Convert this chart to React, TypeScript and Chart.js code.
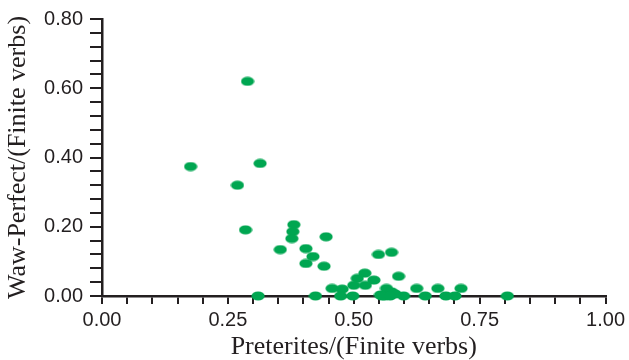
import React, { useEffect, useRef } from "react";
import { Chart, registerables } from "chart.js";

Chart.register(...registerables);

// Share of preterites vs. share of waw-perfect forms, one point per text
const preteriteShare = [
  0.289, 0.176, 0.314, 0.269, 0.285, 0.381, 0.379, 0.377, 0.445, 0.354,
  0.405, 0.419, 0.405, 0.441, 0.310, 0.424, 0.549, 0.575, 0.589, 0.522,
  0.507, 0.540, 0.523, 0.500, 0.457, 0.477, 0.474, 0.498, 0.553, 0.565,
  0.575, 0.562, 0.582, 0.599, 0.556, 0.572, 0.625, 0.642, 0.667, 0.683,
  0.701, 0.713, 0.805,
];
const wawPerfectShare = [
  0.620, 0.374, 0.383, 0.320, 0.191, 0.206, 0.186, 0.166, 0.171, 0.134,
  0.137, 0.114, 0.094, 0.086, 0.000, 0.000, 0.120, 0.126, 0.057, 0.066,
  0.051, 0.046, 0.031, 0.031, 0.022, 0.020, 0.000, 0.000, 0.003, 0.022,
  0.012, 0.000, 0.006, 0.000, 0.000, 0.000, 0.022, 0.000, 0.022, 0.000,
  0.000, 0.022, 0.000,
];

const xLabelEvery = 0.25;
const yLabelEvery = 0.2;

const INK = "#231f20";
const GREEN = "#00a651";

function ellipseMarker(): HTMLCanvasElement {
  const c = document.createElement("canvas");
  c.width = 14;
  c.height = 10;
  const g = c.getContext("2d")!;
  g.fillStyle = GREEN;
  g.beginPath();
  g.ellipse(7, 5, 6.6, 4.6, 0, 0, Math.PI * 2);
  g.fill();
  return c;
}

function onMultiple(v: number, step: number) {
  const r = v / step;
  return Math.abs(r - Math.round(r)) < 1e-6;
}

const tickFont = { family: "'Liberation Sans', Arial, sans-serif", size: 20 };
const titleFont = {
  family: "'Liberation Serif', 'Times New Roman', serif",
  size: 26,
  lineHeight: 1,
};

export default function App() {
  const ref = useRef<HTMLCanvasElement | null>(null);

  useEffect(() => {
    document.body.style.margin = "0";
    const canvas = ref.current!;
    const marker = ellipseMarker();
    const points = preteriteShare.map((x, i) => ({ x, y: wawPerfectShare[i] }));

    const chart = new Chart(canvas, {
      type: "scatter",
      data: {
        datasets: [
          {
            data: points,
            pointStyle: marker as any,
            pointRadius: 7,
            clip: false as any,
          },
        ],
      },
      options: {
        responsive: false,
        animation: false,
        layout: { padding: { top: 16, right: 21, left: 0, bottom: 0 } },
        plugins: { legend: { display: false }, tooltip: { enabled: false } },
        scales: {
          x: {
            type: "linear",
            min: 0,
            max: 1,
            afterFit: (s: any) => {
              s.height = 64;
            },
            border: { display: true, color: INK, width: 2.5 },
            grid: {
              display: true,
              drawOnChartArea: false,
              drawTicks: true,
              tickLength: 8,
              color: INK,
              lineWidth: 2,
            },
            ticks: {
              stepSize: 0.05,
              autoSkip: false,
              maxRotation: 0,
              padding: 4,
              color: INK,
              font: tickFont,
              callback: (v: any) =>
                onMultiple(Number(v), xLabelEvery) ? Number(v).toFixed(2) : "",
            },
            title: {
              display: true,
              text: "Preterites/(Finite verbs)",
              color: INK,
              padding: { top: 0, bottom: 0 },
              font: titleFont,
            },
          },
          y: {
            type: "linear",
            min: 0,
            max: 0.8,
            afterFit: (s: any) => {
              s.width = 102;
            },
            border: { display: true, color: INK, width: 2.5 },
            grid: {
              display: true,
              drawOnChartArea: false,
              drawTicks: true,
              tickLength: 12,
              color: INK,
              lineWidth: 2,
            },
            ticks: {
              stepSize: 0.04,
              autoSkip: false,
              padding: 7,
              color: INK,
              font: tickFont,
              callback: (v: any) =>
                onMultiple(Number(v), yLabelEvery) ? Number(v).toFixed(2) : "",
            },
            title: {
              display: true,
              text: "Waw-Perfect/(Finite verbs)",
              color: INK,
              padding: { top: 5, bottom: 0 },
              font: titleFont,
            },
          },
        },
      },
    });
    return () => chart.destroy();
  }, []);

  return (
    <div style={{ position: "absolute", left: 0, top: 0, width: 629, height: 360 }}>
      <canvas ref={ref} width={629} height={360} />
    </div>
  );
}
